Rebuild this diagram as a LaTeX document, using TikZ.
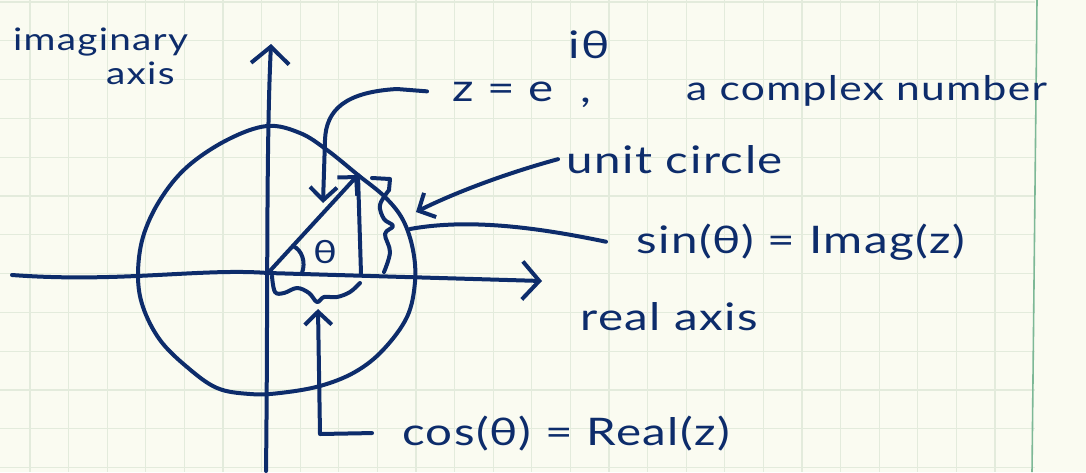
\documentclass[tikz,border=0pt]{standalone}
\usepackage{fontspec}
\newfontfamily\hand[FakeStretch=1.25,LetterSpace=4]{Lato}
\usetikzlibrary{arrows.meta}
\definecolor{ink}{HTML}{0D2C6B}
\definecolor{paper}{HTML}{FAFBF1}
\definecolor{gridline}{HTML}{E3EBDC}
\definecolor{margin}{HTML}{7DB896}
\tikzset{
  pen/.style={ink, line width=4pt, line cap=round, line join=round},
  bigtip/.style={-{Straight Barb[length=17pt,width=38pt]}},
  smalltip/.style={-{Straight Barb[length=13pt,width=27pt]}},
  scrawl/.style={font=\hand\fontsize{38}{40}\selectfont, text=ink, inner sep=0pt, anchor=base west}
}

\begin{document}
\begin{tikzpicture}[x=1pt,y=-1pt]
\useasboundingbox (0,0) rectangle (1086,472);
% squared paper
\fill[paper] (0,0) rectangle (1086,472);
\foreach \k in {0,...,25}
  \draw[gridline, line width=1.2pt] (30+38.6*\k,0) -- (30+38.6*\k,472);
\foreach \k in {0,...,12}
  \draw[gridline, line width=1.2pt] (0,2+38.8*\k) -- (1035,2+38.8*\k);
\draw[margin, line width=1.6pt] (1037,0) -- (1032,472);

\coordinate (O) at (268,273);
\coordinate (Z) at (358,175);
\coordinate (X) at (361,274);

% axes
\draw[pen,bigtip] (266,471) .. controls (268,300) and (266,150) .. (271,44);
\draw[pen,bigtip] (12,275) .. controls (120,283) and (200,268) .. (O) -- (542,281);

% unit circle
\draw[pen] plot[smooth cycle, tension=0.6] coordinates {
  (267,126) (300,133) (327,150) (358,175) (385,197) (403,220) (413,250)
  (415,282) (407,317) (383,350) (355,372) (320,386) (280,393) (250,394)
  (217,388) (187,367) (160,340) (143,307) (138,275) (143,237) (160,200)
  (187,167) (227,140)};

% triangle
\draw[pen,smalltip] (O) -- (Z);
\draw[pen] (Z) -- (X);
\draw[pen] (302,273) .. controls (306,262) and (302,250) .. (293,246);
\node[scrawl, anchor=center, font=\hand\fontsize{32}{34}\selectfont] (thlbl) at (325,252) {θ};

% braces
\draw[pen] plot[smooth, tension=0.6] coordinates {(272,276) (275,292) (284,293)
  (297,288) (309,293) (317,302) (324,297) (337,297) (350,292) (360,283)};
\draw[pen] (372,178) -- (390,179) -- (389,190);
\draw[pen] plot[smooth, tension=0.6] coordinates {(389,190) (380,205) (384,219)
  (393,226) (385,234) (390,252) (384,272)};

% labels
\node[scrawl, font=\hand\fontsize{31}{33}\selectfont] (imag) at (13,50) {imaginary};
\node[scrawl, font=\hand\fontsize{31}{33}\selectfont] (imaxis) at (106,84) {axis};
\node[scrawl] (zlbl) at (452,101) {z = e};
\node[scrawl] (zexp) at (568,58) {iθ};
\node[scrawl] (zcomma) at (580,102) {,};
\node[scrawl, font=\hand\fontsize{34}{36}\selectfont] (cplx) at (686,100) {a complex number};
\node[scrawl] (unitlbl) at (566,173) {unit circle};
\node[scrawl] (sinlbl) at (636,253) {sin(θ) = Imag(z)};
\node[scrawl] (realax) at (580,330) {real axis};
\node[scrawl] (coslbl) at (402,445) {cos(θ) = Real(z)};

% pointers
\coordinate (ztip) at (323,203);
\coordinate (ucirc) at (416,212);
\coordinate (sinB) at (410,229);
\coordinate (cosB) at (318,309);
\coordinate (cosC) at (320,434);
\draw[pen,smalltip] ([xshift=-25pt]zlbl.west) -- (397,89)
  .. controls (345,92) and (326,110) .. (325,140) -- (ztip);
\draw[pen,smalltip] ([xshift=-8pt]unitlbl.west)
  .. controls (500,175) and (450,195) .. (ucirc);
\draw[pen] ([xshift=-30pt]sinlbl.west) .. controls (540,228) and (470,218) .. (sinB);
\draw[pen,smalltip] ([xshift=-30pt]coslbl.west) -- (cosC) -- (cosB);
\end{tikzpicture}
\end{document}
